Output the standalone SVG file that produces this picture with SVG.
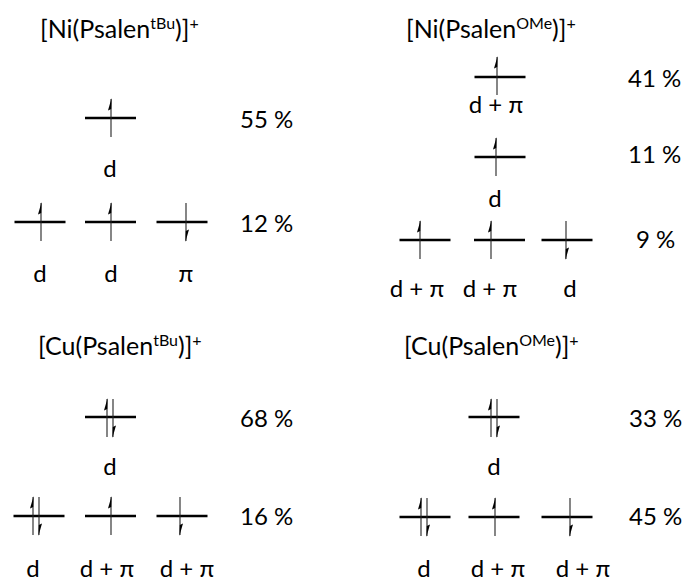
<svg xmlns="http://www.w3.org/2000/svg" xmlns:xlink="http://www.w3.org/1999/xlink" width="686" height="581" viewBox="0 0 686 581">
<style>
text{font-family:Lato,"Liberation Sans","DejaVu Sans",sans-serif;font-size:24px;fill:#000}
.c{text-anchor:middle}
.t{font-size:25px}
.sup{font-size:16px}
.lvl{stroke:#000;stroke-width:2.6}
.sp{stroke:#222;stroke-width:1.1}
.hd{fill:#000}
</style>
<defs>
<line id="lvl" class="lvl" x1="-25.5" y1="0" x2="25.5" y2="0"/>
<g id="up"><line class="sp" x1="0" y1="-19" x2="0" y2="19"/><polygon class="hd" points="0.6,-20 -3,-7.5 0.2,-9"/></g>
<g id="dn"><line class="sp" x1="0" y1="-19" x2="0" y2="19"/><polygon class="hd" points="-0.6,20 3,7.5 -0.2,9"/></g>
</defs>

<g id="ni-tbu">
<text class="t" x="40" y="38">[Ni(Psalen<tspan class="sup" dy="-9">tBu</tspan><tspan dy="9">)]</tspan><tspan class="sup" dy="-9">+</tspan></text>
<g id="ni-tbu-l1"><use href="#lvl" x="110.5" y="118"/><use href="#up" x="111" y="118"/><text class="c" x="110" y="177">d</text></g>
<text x="240" y="128">55 %</text>
<g id="ni-tbu-l2a"><use href="#lvl" x="40" y="222"/><use href="#up" x="41" y="222"/><text class="c" x="40" y="282">d</text></g>
<g id="ni-tbu-l2b"><use href="#lvl" x="110.5" y="222"/><use href="#up" x="111" y="222"/><text class="c" x="111" y="282">d</text></g>
<g id="ni-tbu-l2c"><use href="#lvl" x="182" y="222"/><use href="#dn" x="186" y="222"/><text class="c" x="186" y="282">π</text></g>
<text x="240" y="232">12 %</text>
</g>

<g id="ni-ome">
<text class="t" x="406" y="38">[Ni(Psalen<tspan class="sup" dy="-9">OMe</tspan><tspan dy="9">)]</tspan><tspan class="sup" dy="-9">+</tspan></text>
<g id="ni-ome-l1"><use href="#lvl" x="500" y="77"/><use href="#up" x="497" y="76"/><text class="c" x="496" y="113">d + π</text></g>
<text x="628" y="87">41 %</text>
<g id="ni-ome-l2"><use href="#lvl" x="500" y="157"/><use href="#up" x="496" y="157"/><text class="c" x="495" y="207">d</text></g>
<text x="628" y="163">11 %</text>
<g id="ni-ome-l3a"><use href="#lvl" x="425" y="240"/><use href="#up" x="420" y="240"/><text class="c" x="417" y="297">d + π</text></g>
<g id="ni-ome-l3b"><use href="#lvl" x="499.5" y="240"/><use href="#up" x="491" y="240"/><text class="c" x="490" y="297">d + π</text></g>
<g id="ni-ome-l3c"><use href="#lvl" x="567" y="240"/><use href="#dn" x="566" y="240"/><text class="c" x="570" y="297">d</text></g>
<text x="636" y="248">9 %</text>
</g>

<g id="cu-tbu">
<text class="t" x="38" y="355">[Cu(Psalen<tspan class="sup" dy="-9">tBu</tspan><tspan dy="9">)]</tspan><tspan class="sup" dy="-9">+</tspan></text>
<g id="cu-tbu-l1"><use href="#lvl" x="110.5" y="417"/><use href="#up" x="107" y="418"/><use href="#dn" x="113" y="418"/><text class="c" x="110" y="475">d</text></g>
<text x="240" y="427">68 %</text>
<g id="cu-tbu-l2a"><use href="#lvl" x="39" y="516"/><use href="#up" x="33" y="516"/><use href="#dn" x="39" y="516"/><text class="c" x="33" y="577">d</text></g>
<g id="cu-tbu-l2b"><use href="#lvl" x="110.5" y="516"/><use href="#up" x="111" y="516"/><text class="c" x="107" y="577">d + π</text></g>
<g id="cu-tbu-l2c"><use href="#lvl" x="182" y="516"/><use href="#dn" x="180" y="516"/><text class="c" x="187" y="577">d + π</text></g>
<text x="240" y="525">16 %</text>
</g>

<g id="cu-ome">
<text class="t" x="404" y="355">[Cu(Psalen<tspan class="sup" dy="-9">OMe</tspan><tspan dy="9">)]</tspan><tspan class="sup" dy="-9">+</tspan></text>
<g id="cu-ome-l1"><use href="#lvl" x="494" y="417"/><use href="#up" x="491" y="418"/><use href="#dn" x="497" y="418"/><text class="c" x="494" y="475">d</text></g>
<text x="629" y="427">33 %</text>
<g id="cu-ome-l2a"><use href="#lvl" x="425" y="517"/><use href="#up" x="421" y="517"/><use href="#dn" x="427" y="517"/><text class="c" x="424" y="577">d</text></g>
<g id="cu-ome-l2b"><use href="#lvl" x="494" y="517"/><use href="#up" x="495" y="517"/><text class="c" x="498" y="577">d + π</text></g>
<g id="cu-ome-l2c"><use href="#lvl" x="567" y="517"/><use href="#dn" x="570" y="517"/><text class="c" x="583" y="577">d + π</text></g>
<text x="629" y="525">45 %</text>
</g>
</svg>
